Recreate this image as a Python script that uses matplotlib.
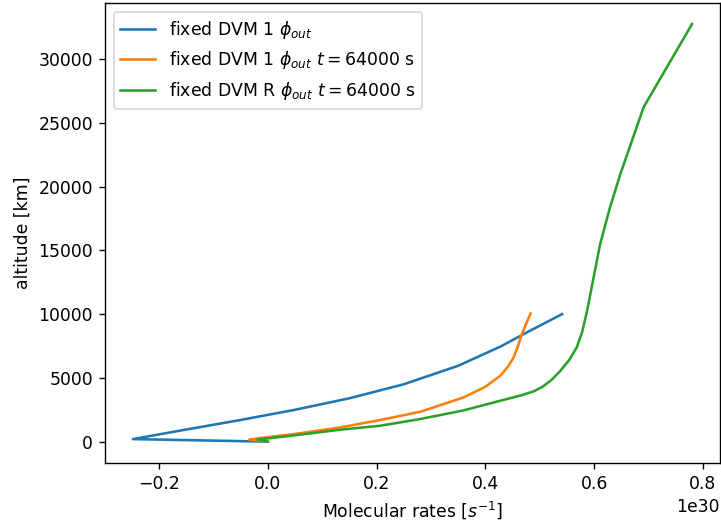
import numpy as np
import matplotlib
matplotlib.use("Agg")
import matplotlib.pyplot as plt

# rates in units of 1e30 s^-1, altitude in km
blue_x = [0.0, -0.248, -0.15, -0.05, 0.05, 0.15, 0.25, 0.35, 0.4275, 0.48, 0.541]
blue_alt = [0, 200, 950, 1700, 2500, 3400, 4500, 5950, 7450, 8650, 10000]

orange_x = [0.0, -0.034, -0.013, 0.05, 0.134, 0.207, 0.281, 0.36, 0.40, 0.4275, 0.441, 0.452,
            0.460, 0.467, 0.483]
orange_alt = [0, 160, 290, 600, 1120, 1700, 2350, 3470, 4300, 5170, 5850, 6600,
              7500, 8430, 10050]

green_x = [0.0, -0.019, 0.05, 0.134, 0.207, 0.281, 0.36, 0.4275, 0.465, 0.489, 0.505, 0.522,
           0.538, 0.555, 0.568, 0.578, 0.587, 0.599, 0.611, 0.629, 0.648, 0.691, 0.780]
green_alt = [0, 160, 500, 940, 1250, 1780, 2450, 3210, 3620, 3950, 4300, 4850,
             5560, 6450, 7390, 8600, 10260, 12870, 15480, 18350, 20960, 26230, 32750]

scale = 1e30
dpi = 124

fig = plt.figure(figsize=(721 / dpi, 525 / dpi), dpi=dpi)
ax = fig.add_subplot(111)
fig.subplots_adjust(left=0.1456, right=0.9986, top=0.994, bottom=0.119)

ax.plot(np.array(blue_x) * scale, blue_alt, label=r"fixed DVM 1 $\phi_{out}$")
ax.plot(np.array(orange_x) * scale, orange_alt, label=r"fixed DVM 1 $\phi_{out}$ $t = 64000$ s")
ax.plot(np.array(green_x) * scale, green_alt, label=r"fixed DVM R $\phi_{out}$ $t = 64000$ s")

ax.ticklabel_format(axis="x", style="sci", scilimits=(30, 30))
ax.set_xlabel(r"Molecular rates [$s^{-1}$]")
ax.set_ylabel("altitude [km]")
ax.legend(loc="upper left")

fig.savefig("out.png", dpi=dpi)
